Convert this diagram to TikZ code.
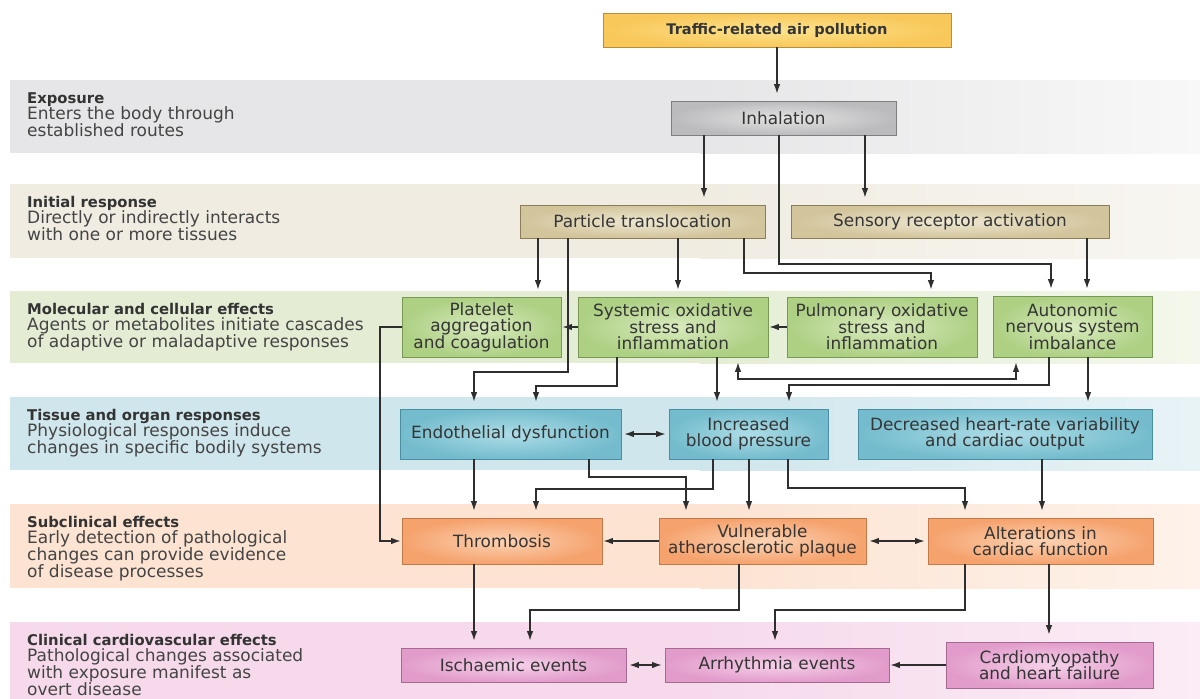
\documentclass[tikz,border=0pt]{standalone}
\usepackage{fontspec}
\setmainfont{DejaVu Sans}
\usetikzlibrary{arrows.meta}
\definecolor{lc}{HTML}{2E2E2E}
\definecolor{txt}{HTML}{353535}
\definecolor{ttlc}{HTML}{333333}
\definecolor{lblc}{HTML}{444444}
% band colours
\definecolor{bExp}{HTML}{E6E6E8}\definecolor{bExpL}{HTML}{F8F8F8}
\definecolor{bIni}{HTML}{F0ECE2}\definecolor{bIniL}{HTML}{F8F6F1}
\definecolor{bMol}{HTML}{E4EDD4}\definecolor{bMolL}{HTML}{F4F8EC}
\definecolor{bTis}{HTML}{CFE6EC}\definecolor{bTisL}{HTML}{E8F3F6}
\definecolor{bSub}{HTML}{FCE3D2}\definecolor{bSubL}{HTML}{FEF2EA}
\definecolor{bCli}{HTML}{F6DAEC}\definecolor{bCliL}{HTML}{FBECF5}
% box colours
\definecolor{yin}{HTML}{FDE38E}\definecolor{yout}{HTML}{F8C85A}\definecolor{yborder}{HTML}{B58E3E}
\definecolor{gyin}{HTML}{E4E4E5}\definecolor{gyout}{HTML}{BBBBBD}\definecolor{gyborder}{HTML}{7E7E80}
\definecolor{tin}{HTML}{EEE8D2}\definecolor{tout}{HTML}{D2C49B}\definecolor{tborder}{HTML}{8A7D5A}
\definecolor{gin}{HTML}{D9EBBE}\definecolor{gout}{HTML}{ADD083}\definecolor{gborder}{HTML}{789855}
\definecolor{bin}{HTML}{ADDDE7}\definecolor{bout}{HTML}{74BCCD}\definecolor{bborder}{HTML}{4A8EA1}
\definecolor{oin}{HTML}{FCD3B3}\definecolor{oout}{HTML}{F5A26D}\definecolor{oborder}{HTML}{C47A48}
\definecolor{pin}{HTML}{F5D1E9}\definecolor{pout}{HTML}{E29CCB}\definecolor{pborder}{HTML}{A46A91}
\newcommand\boxfont{\fontsize{16.9}{16.5}\selectfont}
\newcommand\myband[4]{%
  \fill[#3] (10,#1) rectangle (701,#2);
  \shade[left color=#3, right color=#4] (700,#1) rectangle (1200,#2);
}
\newcommand\bandtext[4]{%
  \node[ttl] (#1t) at (27,#2) {#3};
  \foreach \ln [count=\k] in {#4} \node[lbl] (#1\k) at (27,#2+16.7*\k) {\ln};
}
\begin{document}
\begin{tikzpicture}[x=1pt,y=-1pt,
  box/.style={draw=#1border, line width=0.8pt, inner color=#1in, outer color=#1out,
    align=center, font=\boxfont, text=txt, inner sep=0pt},
  ttl/.style={anchor=base west, inner sep=0pt, font=\bfseries\fontsize{14.8}{16}\selectfont, text=ttlc},
  lbl/.style={anchor=base west, inner sep=0pt, font=\fontsize{17}{16.7}\selectfont, text=lblc},
  conn/.style={draw=lc, line width=1.25pt},
  tip/.tip={Latex[length=9.5pt,width=6.5pt]},
  av/.style={conn, -tip, shorten >=7pt},
  ah/.style={conn, -tip, shorten >=1pt},
  bh/.style={conn, tip-tip, shorten >=3pt, shorten <=3pt},
  bv/.style={conn, tip-tip, shorten >=5pt, shorten <=5pt},
]
\useasboundingbox (0,0) rectangle (1200,699);
\fill[white] (0,0) rectangle (1200,699);
% bands
\myband{80}{153}{bExp}{bExpL}
\myband{184}{258}{bIni}{bIniL}
\myband{291}{363}{bMol}{bMolL}
\myband{397}{470}{bTis}{bTisL}
\myband{504}{588}{bSub}{bSubL}
\myband{622}{699}{bCli}{bCliL}
% band labels
\bandtext{exp}{103}{Exposure}{Enters the body through,established routes}
\bandtext{ini}{207}{Initial response}{Directly or indirectly interacts,with one or more tissues}
\bandtext{mol}{314}{Molecular and cellular effects}{Agents or metabolites initiate cascades,of adaptive or maladaptive responses}
\bandtext{tis}{420}{Tissue and organ responses}{Physiological responses induce,changes in specific bodily systems}
\bandtext{sub}{527}{Subclinical effects}{Early detection of pathological,changes can provide evidence,of disease processes}
\bandtext{cli}{645}{Clinical cardiovascular effects}{Pathological changes associated,with exposure manifest as,overt disease}
% boxes
\node[box=y, minimum width=348pt, minimum height=34pt, font=\bfseries\fontsize{14.6}{16}\selectfont] (traffic) at (777,30) {Traffic-related air pollution};
\node[box=gy, minimum width=225pt, minimum height=34pt] (inhal) at (783.5,118) {Inhalation};
\node[box=t, minimum width=245pt, minimum height=33pt] (part) at (642.5,221.5) {Particle translocation};
\node[box=t, minimum width=318pt, minimum height=33pt] (sens) at (950,221.5) {Sensory receptor activation};
\node[box=g, minimum width=159pt, minimum height=60pt] (plat) at (481.5,327) {Platelet\\aggregation\\and coagulation};
\node[box=g, minimum width=190pt, minimum height=60pt] (syst) at (673,327) {Systemic oxidative\\stress and\\inflammation};
\node[box=g, minimum width=190pt, minimum height=60pt] (pulm) at (882,327) {Pulmonary oxidative\\stress and\\inflammation};
\node[box=g, minimum width=159pt, minimum height=61pt] (auto) at (1072.5,326.5) {Autonomic\\nervous system\\imbalance};
\node[box=b, minimum width=221pt, minimum height=50pt] (endo) at (510.5,434) {Endothelial dysfunction};
\node[box=b, minimum width=159pt, minimum height=50pt] (bp) at (748.5,434) {Increased\\blood pressure};
\node[box=b, minimum width=294pt, minimum height=50pt] (hrv) at (1005,434) {Decreased heart-rate variability\\and cardiac output};
\node[box=o, minimum width=200pt, minimum height=46pt] (thromb) at (502,541) {Thrombosis};
\node[box=o, minimum width=207pt, minimum height=46pt] (vuln) at (762.5,541) {Vulnerable\\atherosclerotic plaque};
\node[box=o, minimum width=225pt, minimum height=46pt] (alt) at (1040.5,541) {Alterations in\\cardiac function};
\node[box=p, minimum width=225pt, minimum height=34pt] (isch) at (513.5,665) {Ischaemic events};
\node[box=p, minimum width=224pt, minimum height=34pt] (arr) at (777,665) {Arrhythmia events};
\node[box=p, minimum width=207pt, minimum height=46pt] (cardio) at (1049.5,665) {Cardiomyopathy\\and heart failure};
% connectors
\draw[av] (traffic.south -| 777,0) -- (inhal.north -| 777,0);
\draw[av] (inhal.south -| 704,0) -- (part.north -| 704,0);
\draw[av] (inhal.south -| 865,0) -- (sens.north -| 865,0);
\draw[av] (inhal.south -| 779,0) |- (1051,264) -- (auto.north -| 1051,0);
\draw[av] (part.south -| 538,0) -- (plat.north -| 538,0);
\draw[av] (part.south -| 568,0) -- (568,372) -| (endo.north -| 474,0);
\draw[av] (part.south -| 678,0) -- (syst.north -| 678,0);
\draw[av] (part.south -| 744,0) |- (931,273) -- (pulm.north -| 931,0);
\draw[av] (sens.south -| 1087,0) -- (auto.north -| 1087,0);
\draw[ah] (syst.west) -- (plat.east);
\draw[ah] (pulm.west) -- (syst.east);
\draw[ah] (plat.west) -- (380,327) |- (thromb.west);
\draw[av] (syst.south -| 617,0) |- (536,386) -- (endo.north -| 536,0);
\draw[av] (syst.south -| 717,0) -- (bp.north -| 717,0);
\draw[bv] (syst.south -| 738,0) |- (1016,379) -- (auto.south -| 1016,0);
\draw[av] (auto.south -| 1049,0) |- (789,385) -- (bp.north -| 789,0);
\draw[av] (auto.south -| 1088,0) -- (hrv.north -| 1088,0);
\draw[bh] (endo.east) -- (bp.west);
\draw[av] (endo.south -| 474,0) -- (thromb.north -| 474,0);
\draw[av] (endo.south -| 589,0) |- (686,477) -- (vuln.north -| 686,0);
\draw[av] (bp.south -| 713,0) |- (536,489) -- (thromb.north -| 536,0);
\draw[av] (bp.south -| 749,0) -- (vuln.north -| 749,0);
\draw[av] (bp.south -| 788,0) |- (965,488) -- (alt.north -| 965,0);
\draw[av] (hrv.south -| 1042,0) -- (alt.north -| 1042,0);
\draw[ah] (vuln.west) -- (thromb.east);
\draw[bh] (vuln.east) -- (alt.west);
\draw[av] (thromb.south -| 474,0) -- (isch.north -| 474,0);
\draw[av] (vuln.south -| 739,0) |- (530,610) -- (isch.north -| 530,0);
\draw[av] (alt.south -| 965,0) |- (775,610) -- (arr.north -| 775,0);
\draw[av] (alt.south -| 1049,0) -- (cardio.north -| 1049,0);
\draw[bh] (isch.east) -- (arr.west);
\draw[ah] (cardio.west) -- (arr.east);
\end{tikzpicture}
\end{document}
